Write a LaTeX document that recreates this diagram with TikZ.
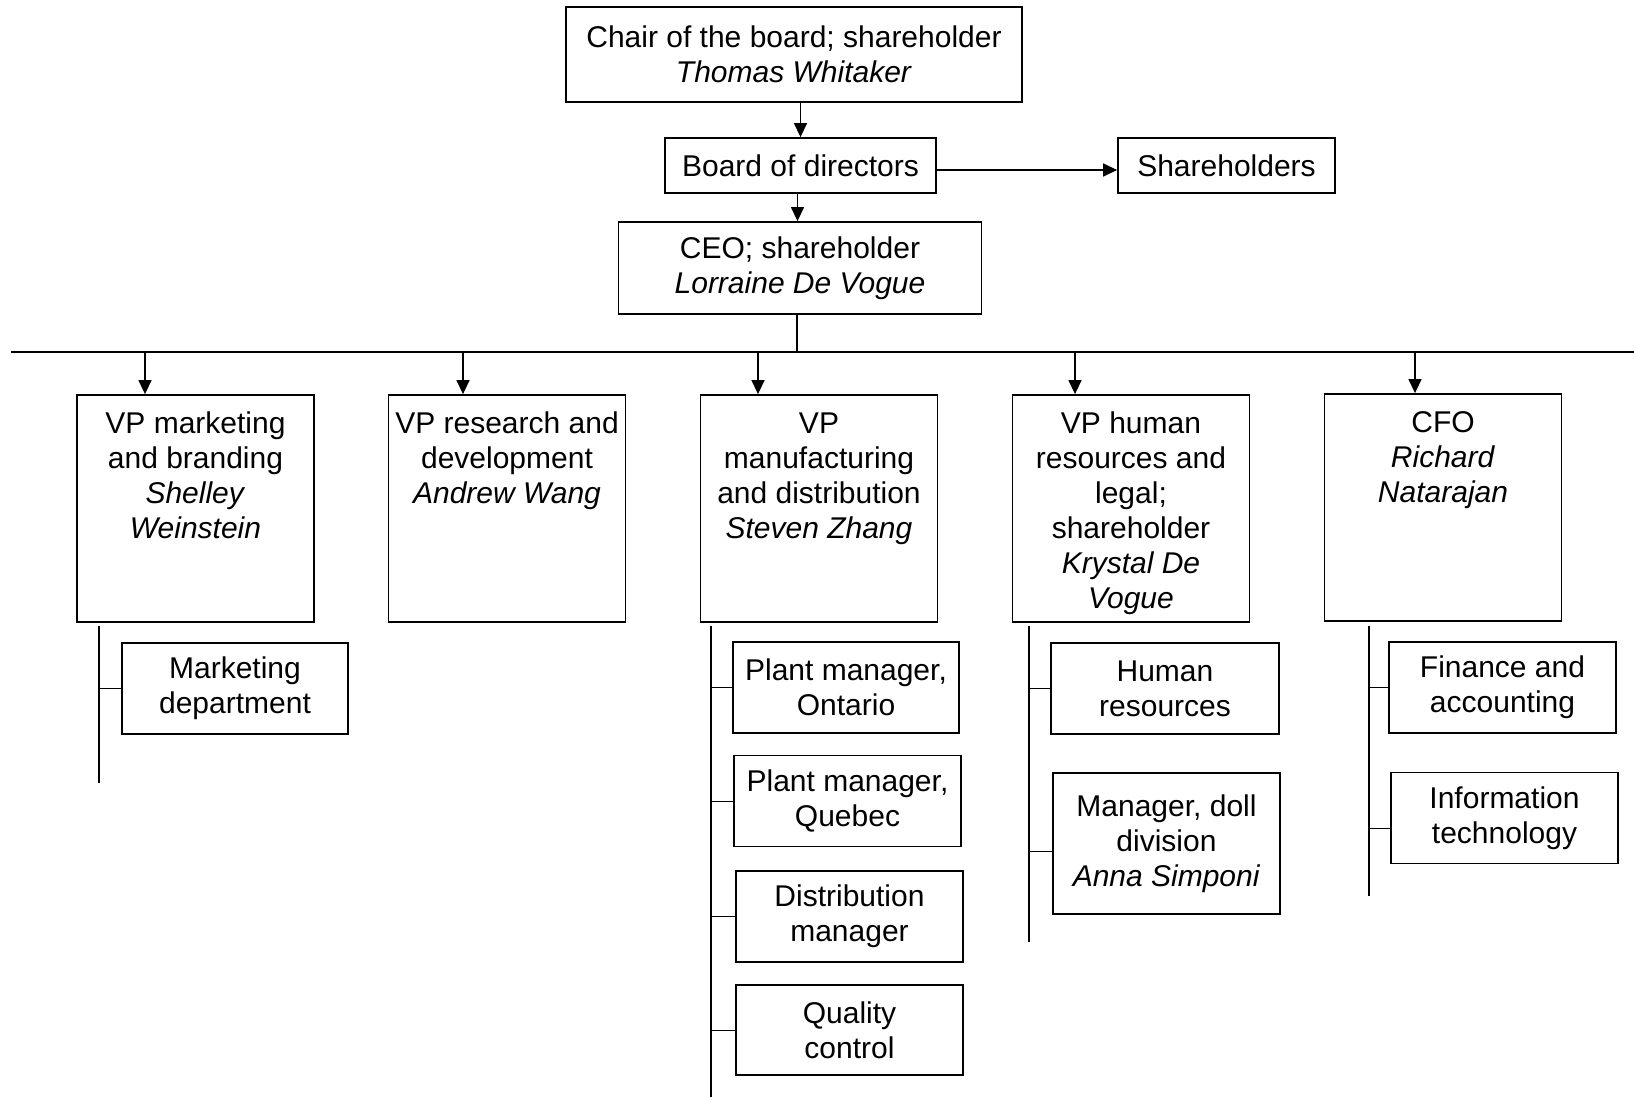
\documentclass[tikz,border=0pt]{standalone}
\usepackage{fontspec}
\setmainfont{Liberation Sans}
\usetikzlibrary{arrows.meta}
\begin{document}
\begin{tikzpicture}[x=1pt,y=-1pt,
  box/.style={draw, line width=1.8pt, inner sep=0pt, align=center, font=\fontsize{30}{35}\selectfont},
  vptext/.style={inner sep=0pt, anchor=north, align=center, font=\fontsize{30}{35}\selectfont},
  arr/.style={line width=1.4pt, -{Triangle[length=14pt,width=13pt]}},
  ln/.style={line width=1.4pt},
  br/.style={line width=1pt}]
\useasboundingbox (0,0) rectangle (1634,1097);

% top chain
\node[box, minimum width=456, minimum height=95] (chair) at (794,54.5) {Chair of the board; shareholder\\\textit{Thomas Whitaker}};
\node[box, minimum width=271, minimum height=55] (board) at (800.5,165.5) {Board of directors};
\node[box, minimum width=217, minimum height=55] (sh) at (1226.5,165.5) {Shareholders};
\node[box, minimum width=363, minimum height=92] (ceo) at (800,268) {CEO; shareholder\\\textit{Lorraine De Vogue}};

\draw[arr] (board.north |- chair.south) -- (board.north);
\draw[arr] ([yshift=-4.5]board.east) -- ([yshift=-4.5]sh.west);
\draw[arr] ([xshift=-3]board.south) -- ([xshift=-3]board.south |- ceo.north);

% bus
\coordinate (busL) at (11,352);
\coordinate (busR) at (1634,352);
\draw[ln] (busL) -- (busR);
\draw[ln] ([xshift=-3]ceo.south) -- ([xshift=-3]ceo.south |- busL);

% VP boxes
\node[box, minimum width=237, minimum height=227] (vp1) at (195.5,508.5) {};
\node[box, minimum width=237, minimum height=227] (vp2) at (507,508.5) {};
\node[box, minimum width=237, minimum height=227] (vp3) at (819,508.5) {};
\node[box, minimum width=237, minimum height=227] (vp4) at (1131,508.5) {};
\node[box, minimum width=237, minimum height=227] (cfo) at (1443,507.5) {};

\node[vptext] (vp1t) at ([yshift=-15]vp1.north) {\strut VP marketing\\and branding\\\textit{Shelley}\\\textit{Weinstein}};
\node[vptext] (vp2t) at ([yshift=-15]vp2.north) {\strut VP research and\\development\\\textit{Andrew Wang}};
\node[vptext] (vp3t) at ([yshift=-15]vp3.north) {\strut VP\\manufacturing\\and distribution\\\textit{Steven Zhang}};
\node[vptext] (vp4t) at ([yshift=-15]vp4.north) {\strut VP human\\resources and\\legal;\\shareholder\\\textit{Krystal De}\\\textit{Vogue}};
\node[vptext] (cfot) at ([yshift=-15]cfo.north) {\strut CFO\\\textit{Richard}\\\textit{Natarajan}};

\draw[arr] ([xshift=-50.5]vp1.north |- busL) -- ([xshift=-50.5]vp1.north);
\draw[arr] ([xshift=-44]vp2.north |- busL) -- ([xshift=-44]vp2.north);
\draw[arr] ([xshift=-61]vp3.north |- busL) -- ([xshift=-61]vp3.north);
\draw[arr] ([xshift=-56]vp4.north |- busL) -- ([xshift=-56]vp4.north);
\draw[arr] ([xshift=-28]cfo.north |- busL) -- ([xshift=-28]cfo.north);

% marketing subtree
\coordinate (t1) at (99,626);
\coordinate (b1) at (99,783);
\draw[ln] (t1) -- (b1);
\node[box, minimum width=226, minimum height=91] (md) at (235,688.5) {Marketing\\department};
\draw[br] (md.west) -- (md.west -| t1);

% manufacturing subtree
\coordinate (t3) at (711,626);
\coordinate (b3) at (711,1097);
\draw[ln] (t3) -- (b3);
\node[box, minimum width=226, minimum height=91] (pm1) at (846,687.5) {Plant manager,\\Ontario};
\node[box, minimum width=227, minimum height=91] (pmq) at (847.5,801) {Plant manager,\\Quebec};
\node[box, minimum width=227, minimum height=91] (dist) at (849.5,916.5) {Distribution\\manager};
\node[box, minimum width=227, minimum height=90] (qc) at (849.5,1030) {Quality\\control};
\draw[br] (pm1.west) -- (pm1.west -| t3);
\draw[br] (pmq.west) -- (pmq.west -| t3);
\draw[br] (dist.west) -- (dist.west -| t3);
\draw[br] (qc.west) -- (qc.west -| t3);

% HR subtree
\coordinate (t4) at (1029,626);
\coordinate (b4) at (1029,942);
\draw[ln] (t4) -- (b4);
\node[box, minimum width=228, minimum height=91] (hr) at (1165,688.5) {Human\\resources};
\node[box, minimum width=227, minimum height=141] (doll) at (1166.5,843.5) {Manager, doll\\division\\\textit{Anna Simponi}};
\draw[br] (hr.west) -- (hr.west -| t4);
\draw[br] ([yshift=-7.5]doll.west) -- ([yshift=-7.5]doll.west -| t4);

% CFO subtree
\coordinate (t5) at (1369,626);
\coordinate (b5) at (1369,896);
\draw[ln] (t5) -- (b5);
\node[box, minimum width=227, minimum height=91] (fin) at (1502.5,687.5) {Finance and\\accounting};
\node[box, minimum width=227, minimum height=91] (it) at (1504.5,818) {Information\\technology};
\draw[br] (fin.west) -- (fin.west -| t5);
\draw[br] ([yshift=-10]it.west) -- ([yshift=-10]it.west -| t5);
\end{tikzpicture}
\end{document}
